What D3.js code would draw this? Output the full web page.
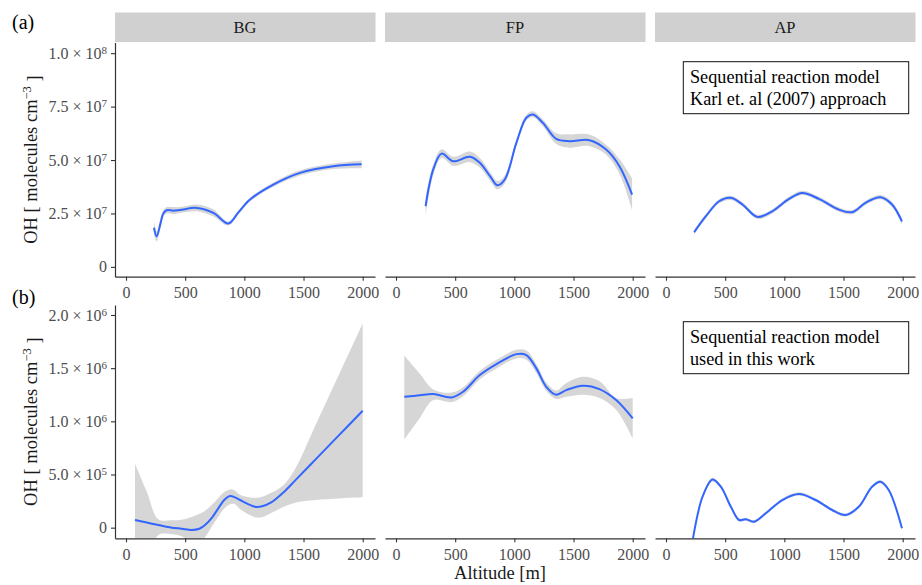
<!DOCTYPE html>
<html><head><meta charset="utf-8">
<script src="https://cdn.jsdelivr.net/npm/d3@7"></script>
<style>
body{margin:0;background:#fff}
svg{display:block}
text{font-family:"Liberation Serif","Times New Roman",Times,serif}
</style>
</head><body>
<svg id="chart" width="922" height="585"></svg>
<script>
// ---------- data ----------
const sites = ["BG", "FP", "AP"];
const xTicks = [0, 500, 1000, 1500, 2000];
// top row values in units of 1e7 molecules cm^-3
const yTicksTop = [0, 2.5, 5, 7.5, 10];
const yTickLabelsTop = [["0", ""], ["2.5 × 10", "7"], ["5.0 × 10", "7"], ["7.5 × 10", "7"], ["1.0 × 10", "8"]];
// bottom row values in units of 1e5 molecules cm^-3
const yTicksBot = [0, 5, 10, 15, 20];
const yTickLabelsBot = [["0", ""], ["5.0 × 10", "5"], ["1.0 × 10", "6"], ["1.5 × 10", "6"], ["2.0 × 10", "6"]];

const topBG_x  = [236, 259, 290, 315, 344, 400, 456, 597, 738, 865, 950, 1048, 1245, 1470, 1752, 1991];
const topBG_y  = [1.83, 1.43, 2.0, 2.5, 2.65, 2.63, 2.66, 2.76, 2.53, 2.03, 2.55, 3.15, 3.85, 4.40, 4.71, 4.80];
const topBG_lo = [1.5, 1.2, 1.8, 2.35, 2.5, 2.47, 2.52, 2.6, 2.36, 1.94, 2.46, 3.06, 3.75, 4.28, 4.58, 4.62];
const topBG_hi = [2.15, 1.65, 2.2, 2.65, 2.8, 2.8, 2.8, 2.92, 2.7, 2.12, 2.64, 3.24, 3.95, 4.52, 4.84, 4.98];

const topFP_x  = [250, 315, 385, 483, 624, 708, 800, 855, 919, 1017, 1101, 1157, 1241, 1354, 1467, 1635, 1776, 1888, 1995];
const topFP_y  = [2.84, 4.56, 5.30, 4.94, 5.15, 4.87, 4.2, 3.82, 4.09, 5.80, 6.98, 7.13, 6.74, 5.99, 5.88, 5.93, 5.49, 4.71, 3.38];
const topFP_lo = [2.4, 4.3, 5.1, 4.72, 4.9, 4.65, 4.0, 3.63, 3.9, 5.65, 6.85, 7.0, 6.58, 5.75, 5.58, 5.65, 5.25, 4.35, 2.65];
const topFP_hi = [3.25, 4.8, 5.5, 5.15, 5.4, 5.1, 4.4, 4.02, 4.28, 5.95, 7.12, 7.28, 6.9, 6.25, 6.2, 6.2, 5.72, 5.05, 4.15];

const topAP_x  = [238, 337, 449, 548, 646, 772, 898, 1039, 1151, 1292, 1461, 1573, 1686, 1812, 1910, 1994];
const topAP_y  = [1.62, 2.37, 3.07, 3.23, 2.92, 2.34, 2.60, 3.18, 3.46, 3.18, 2.68, 2.56, 3.00, 3.26, 2.92, 2.13];
const topAP_lo = [1.5, 2.27, 2.97, 3.13, 2.82, 2.24, 2.5, 3.08, 3.36, 3.08, 2.58, 2.46, 2.9, 3.16, 2.8, 1.98];
const topAP_hi = [1.74, 2.47, 3.17, 3.33, 3.02, 2.44, 2.7, 3.28, 3.56, 3.28, 2.78, 2.66, 3.1, 3.36, 3.04, 2.28];

const botBG_x  = [76, 175, 273, 386, 470, 555, 620, 668, 730, 780, 830, 879, 920, 963, 1090, 1150, 1231, 1329, 1428, 1600, 1800, 2000];
const botBG_y  = [0.72, 0.48, 0.25, 0.0, -0.1, -0.22, -0.1, 0.25, 1.0, 1.82, 2.6, 2.98, 2.85, 2.6, 1.97, 2.02, 2.4, 3.3, 4.42, 6.4, 8.7, 11.0];
const botBG_lo = [-6, -3.5, -0.7, -0.62, -0.8, -1.3, -1.4, -0.9, 0.2, 1.03, 1.8, 2.2, 2.2, 1.75, 0.98, 0.98, 1.4, 1.95, 2.35, 2.6, 2.75, 2.85];
const botBG_hi = [6.0, 3.4, 0.79, 0.7, 0.75, 1.0, 1.3, 1.6, 2.2, 2.8, 3.35, 3.6, 3.5, 3.1, 2.8, 2.9, 3.3, 4.0, 5.5, 9.6, 14.4, 19.2];

const botFP_x  = [70, 200, 315, 469, 567, 708, 849, 1017, 1101, 1186, 1270, 1354, 1439, 1579, 1719, 1860, 2000];
const botFP_y  = [12.31, 12.45, 12.56, 12.25, 12.78, 14.35, 15.38, 16.32, 16.23, 14.98, 13.25, 12.5, 12.94, 13.35, 13.03, 12.0, 10.28];
const botFP_lo = [8.3, 10.3, 12.0, 11.8, 12.35, 13.95, 14.98, 15.92, 15.8, 14.55, 12.85, 12.1, 12.3, 12.5, 12.2, 11.1, 8.4];
const botFP_hi = [16.2, 14.5, 13.0, 12.7, 13.2, 14.75, 15.78, 16.72, 16.65, 15.4, 13.65, 12.9, 13.6, 14.2, 13.8, 12.2, 12.2];

const botAP_x  = [225, 309, 393, 463, 548, 618, 674, 744, 843, 983, 1124, 1264, 1404, 1517, 1629, 1741, 1812, 1882, 1994];
const botAP_y  = [-1.2, 2.91, 4.52, 3.85, 1.97, 0.72, 0.79, 0.56, 1.35, 2.6, 3.17, 2.6, 1.66, 1.19, 1.97, 3.85, 4.32, 3.54, -0.06];
const botAP_lo = [-1.4, 2.75, 4.35, 3.7, 1.82, 0.57, 0.64, 0.41, 1.2, 2.45, 3.02, 2.45, 1.51, 1.04, 1.82, 3.7, 4.17, 3.39, -0.25];
const botAP_hi = [-1.0, 3.07, 4.69, 4.0, 2.12, 0.87, 0.94, 0.71, 1.5, 2.75, 3.32, 2.75, 1.81, 1.34, 2.12, 4.0, 4.47, 3.69, 0.13];

const annotations = [
  ["Sequential reaction model", "Karl et. al (2007) approach"],
  ["Sequential reaction model", "used in this work"]
];
const rowLabels = ["(a)", "(b)"];

// ---------- layout ----------
const svg = d3.select("#chart");
const colLeft = [115, 385, 655];
const panelW = 260;
const rows = [
  { top: 42.5, bottom: 276.7, domain: [-0.46, 10.5], ticks: yTicksTop, labels: yTickLabelsTop,
    series: [[topBG_x, topBG_y, topBG_lo, topBG_hi], [topFP_x, topFP_y, topFP_lo, topFP_hi], [topAP_x, topAP_y, topAP_lo, topAP_hi]] },
  { top: 305, bottom: 538.3, domain: [-1, 20.94], ticks: yTicksBot, labels: yTickLabelsBot,
    series: [[botBG_x, botBG_y, botBG_lo, botBG_hi], [botFP_x, botFP_y, botFP_lo, botFP_hi], [botAP_x, botAP_y, botAP_lo, botAP_hi]] }
];

const x = d3.scaleLinear().domain([-93, 2104]).range([0, panelW]);
const axisColor = "#333333";
const tickTextColor = "#4D4D4D";
const serif = "'Liberation Serif','Times New Roman',serif";

// strips
sites.forEach((s, i) => {
  svg.append("rect").attr("x", colLeft[i]).attr("y", 12.5).attr("width", panelW + 0.5).attr("height", 29.5)
    .attr("fill", "#D0D0D0");
  svg.append("text").attr("x", colLeft[i] + panelW / 2).attr("y", 27.5)
    .attr("text-anchor", "middle").attr("dominant-baseline", "central")
    .attr("font-size", 16.5).attr("fill", "#1A1A1A").text(s);
});

rows.forEach((row, r) => {
  const y = d3.scaleLinear().domain(row.domain).range([row.bottom, row.top]);
  sites.forEach((s, c) => {
    const g = svg.append("g").attr("transform", `translate(${colLeft[c]},0)`);
    const clipId = `clip-${r}-${c}`;
    g.append("clipPath").attr("id", clipId).append("rect")
      .attr("x", 0).attr("y", row.top).attr("width", panelW).attr("height", row.bottom - row.top);
    const [xs, ys, los, his] = row.series[c];
    const pts = xs.map((xv, k) => ({ x: xv, y: ys[k], lo: los[k], hi: his[k] }));
    const area = d3.area().x(d => x(d.x)).y0(d => y(d.lo)).y1(d => y(d.hi)).curve(d3.curveCatmullRom);
    const line = d3.line().x(d => x(d.x)).y(d => y(d.y)).curve(d3.curveCatmullRom);
    const pg = g.append("g").attr("clip-path", `url(#${clipId})`);
    pg.append("path").datum(pts).attr("d", area).attr("fill", "#999999").attr("fill-opacity", 0.4);
    pg.append("path").datum(pts).attr("d", line).attr("fill", "none").attr("stroke", "#3366FF").attr("stroke-width", 2);

    // x axis
    const xa = g.append("g").attr("transform", `translate(0,${row.bottom})`)
      .call(d3.axisBottom(x).tickValues(xTicks).tickFormat(d3.format("d"))
        .tickSize(4).tickSizeOuter(0).tickPadding(6.2));
    xa.select(".domain").attr("stroke", axisColor).attr("stroke-width", 1.2);
    xa.selectAll(".tick line").attr("stroke", axisColor).attr("stroke-width", 1.1);
    xa.selectAll(".tick text").attr("font-size", 16).attr("fill", tickTextColor).attr("font-family", serif);

    // y axis on first column
    if (c === 0) {
      const ya = g.append("g")
        .call(d3.axisLeft(y).tickValues(row.ticks).tickSize(4).tickSizeOuter(0).tickPadding(4).tickFormat(() => ""));
      ya.select(".domain").attr("stroke", axisColor).attr("stroke-width", 1.2);
      ya.selectAll(".tick line").attr("stroke", axisColor).attr("stroke-width", 1.1);
      ya.selectAll(".tick text").each(function (d, k) {
        const t = d3.select(this).text(null)
          .attr("font-size", 16).attr("fill", tickTextColor).attr("font-family", serif);
        const lab = row.labels[k];
        t.append("tspan").text(lab[0]);
        if (lab[1]) t.append("tspan").attr("dy", "-0.45em").attr("font-size", 11).text(lab[1]);
      });
    }
  });

  // y title
  const yc = (row.top + row.bottom) / 2;
  const yt = svg.append("text").attr("transform", `translate(37,${yc}) rotate(-90)`)
    .attr("text-anchor", "middle").attr("font-size", 18.5).attr("fill", "#1A1A1A");
  yt.append("tspan").text("OH [ molecules cm");
  yt.append("tspan").attr("dy", "-0.45em").attr("font-size", 12.5).text("−3");
  yt.append("tspan").attr("dy", "0.45em").text(" ]");

  // row label
  svg.append("text").attr("x", 12).attr("y", r === 0 ? 28.5 : 304)
    .attr("font-size", 20).attr("fill", "#000").text(rowLabels[r]);

  // annotation box
  const bx = 683.3, bw = 225.4;
  const by = r === 0 ? 61.7 : 321.7, bh = 52;
  svg.append("rect").attr("x", bx).attr("y", by).attr("width", bw).attr("height", bh)
    .attr("fill", "#fff").attr("stroke", "#111").attr("stroke-width", 1);
  annotations[r].forEach((ln, k) => {
    svg.append("text").attr("x", 690).attr("y", by + 21.6 + k * 21.6)
      .attr("font-size", 18.2).attr("fill", "#000").text(ln);
  });
});

// x title
svg.append("text").attr("x", 500).attr("y", 579).attr("text-anchor", "middle")
  .attr("font-size", 18.5).attr("fill", "#1A1A1A").text("Altitude [m]");
</script>
</body></html>
